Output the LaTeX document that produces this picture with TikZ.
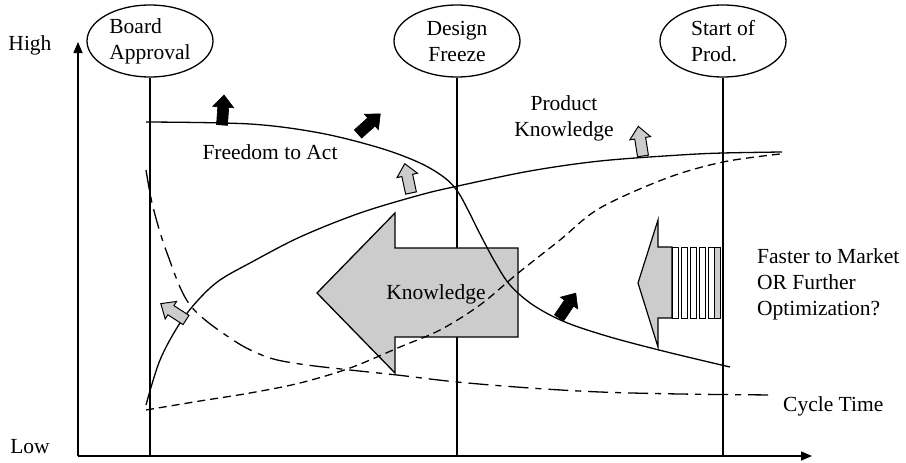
\documentclass[tikz,border=0pt]{standalone}
\usepackage{fontspec}
\setmainfont{Liberation Serif}
\usetikzlibrary{shapes.geometric,arrows.meta}
\tikzset{
  mile/.style={ellipse, draw, line width=1.3pt, minimum width=126pt, minimum height=72pt, inner sep=0pt},
  lbl/.style={inner sep=0pt},
  blk/.style={fill=black, draw=black, line width=0.6pt},
  gry/.style={fill=gray!40, draw=black, line width=1pt},
  blockarr/.pic={\path[pic actions] (0,-5.5) -- (18,-5.5) -- (18,-10.5) -- (30,0) -- (18,10.5) -- (18,5.5) -- (0,5.5) -- cycle;},
  curve/.style={line width=1.3pt},
  shortdash/.style={line width=1.3pt, dash pattern=on 8pt off 5pt},
  dashdot/.style={line width=1.3pt, dash pattern=on 20pt off 7pt on 6pt off 7pt},
}
\begin{document}
\begin{tikzpicture}[x=1pt,y=-1pt, font=\fontsize{21.5}{26}\selectfont]
\useasboundingbox (0,0) rectangle (906,463);
% axes
\coordinate (o) at (78,456);
\coordinate (ytip) at (78,42);
\coordinate (xtip) at (812,456);
\draw[line width=1.5pt, -{Triangle[width=9pt,length=11pt]}] (o) -- (ytip);
\draw[line width=1.5pt, -{Triangle[width=9pt,length=11pt]}] (o) -- (xtip);
% milestones
\node[mile, align=left] (ba) at (150,41) {Board\\Approval};
\node[mile, align=center] (df) at (457,41) {Design\\Freeze};
\node[mile, align=left] (sp) at (723,41) {Start of\\Prod.};
\draw[line width=1.3pt] (ba.south) -- (ba.south |- o);
\draw[line width=1.3pt] (df.south) -- (df.south |- o);
\draw[line width=1.3pt] (sp.south) -- (sp.south |- o);
% big knowledge arrow
\draw[gry, line width=1.3pt] (317,293) -- (395,213) -- (395,248) -- (518,248) -- (518,337) -- (395,337) -- (395,373) -- cycle;
\node[lbl] (kn) at (436,294) {Knowledge};
% faster arrow
\draw[gry, line width=1.2pt] (638,283) -- (658,220) -- (658,247) -- (672,247) -- (672,318) -- (658,318) -- (658,347) -- cycle;
\foreach \xs in {672,681,690,699,708} {
  \draw[fill=white, line width=1pt] (\xs,247) rectangle ++(6,71);
}
\draw[fill=gray!40, line width=1pt] (714,247) rectangle (720,318);
% curves
\draw[curve] plot[smooth, tension=0.55] coordinates {(146,122) (250,124) (320,133) (380,148) (420,163) (445,178) (458,192) (468,210) (480,234) (495,262) (510,285) (533,305) (565,322) (610,337) (667,352) (730,367)};
\draw[curve] plot[smooth, tension=0.55] coordinates {(146,405) (160,360) (180,323) (200,298) (220,280) (250,263) (300,237) (360,213) (420,195) (458,186) (530,171) (600,161) (680,155) (723,153) (782,152)};
\draw[shortdash] plot[smooth, tension=0.55] coordinates {(146,410) (200,401) (250,393) (300,383) (350,368) (400,347) (440,330) (480,305) (517,274) (560,240) (600,208) (667,178) (723,162) (780,154)};
\draw[dashdot] plot[smooth, tension=0.55] coordinates {(146,170) (153,207) (167,253) (190,305) (233,340) (267,357) (300,364) (350,370) (397,375) (457,382) (530,388) (600,392) (680,394) (773,395)};
% small arrows
\pic[blk, rotate=86] at (222,125) {blockarr};
\pic[blk, rotate=42] at (358,134) {blockarr};
\pic[gry, rotate=102] at (411,193) {blockarr};
\pic[gry, rotate=99] at (643,156) {blockarr};
\pic[gry, rotate=147] at (186,320) {blockarr};
\pic[blk, rotate=56] at (559,318) {blockarr};
% labels
\node[lbl] (high) at (30,45) {High};
\node[lbl] (low) at (30,447) {Low};
\node[lbl] (fta) at (270,152) {Freedom to Act};
\node[lbl, align=center] (pk) at (564,118) {Product\\Knowledge};
\node[lbl, align=left, anchor=west] (ftm) at (757,284) {Faster to Market\\OR Further\\Optimization?};
\node[lbl, anchor=west] (ct) at (783,406) {Cycle Time};
\end{tikzpicture}
\end{document}
